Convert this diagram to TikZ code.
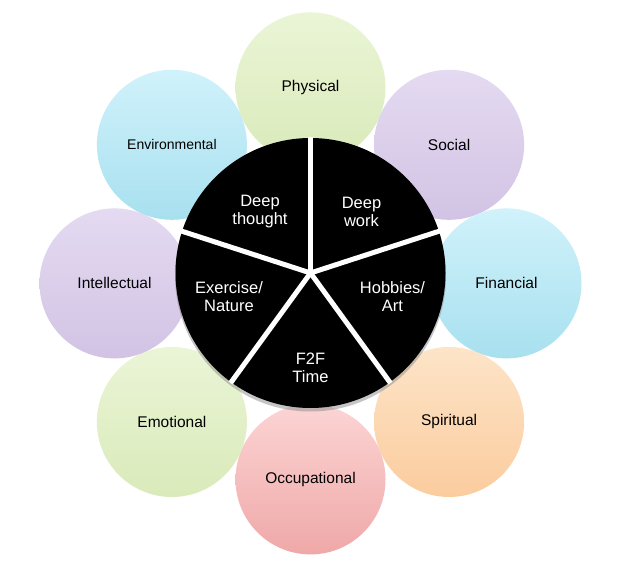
\documentclass[tikz,border=0pt]{standalone}
\usepackage{fontspec}
\setmainfont{Liberation Sans}
\usepackage{tikz}
\usetikzlibrary{positioning}

% 花瓣颜色（上浅下深）
\definecolor{greenTop}{RGB}{234,245,214}
\definecolor{greenBot}{RGB}{218,234,186}
\definecolor{lilacTop}{RGB}{228,218,241}
\definecolor{lilacBot}{RGB}{210,195,228}
\definecolor{cyanTop}{RGB}{208,242,251}
\definecolor{cyanBot}{RGB}{168,224,239}
\definecolor{peachTop}{RGB}{253,228,200}
\definecolor{peachBot}{RGB}{251,204,158}
\definecolor{pinkTop}{RGB}{252,212,212}
\definecolor{pinkBot}{RGB}{239,168,168}

\tikzset{
  petal/.style={circle, minimum size=150pt, inner sep=0pt,
    font=\fontsize{15.5}{18}\selectfont, text=black},
  slicetext/.style={align=center, text=white,
    font=\fontsize{16.5}{18}\selectfont},
  gapline/.style={white, line width=5pt}
}

\begin{document}
\begin{tikzpicture}[x=1pt, y=1pt]
    \useasboundingbox (0,0) rectangle (621,567);
    \fill[white] (0,0) rectangle (621,567);

    % 外圈圆心与饼图圆心
    \coordinate (ring) at (310.5,283.6);
    \coordinate (hub) at (310.5,294);

    % 外圈八个圆
    \node[petal, top color=greenTop, bottom color=greenBot]
        (physical) at ([shift={(90:196)}]ring) {Physical};
    \node[petal, top color=lilacTop, bottom color=lilacBot]
        (social) at ([shift={(45:196)}]ring) {Social};
    \node[petal, top color=cyanTop, bottom color=cyanBot]
        (financial) at ([shift={(0:196)}]ring) {Financial};
    \node[petal, top color=peachTop, bottom color=peachBot]
        (spiritual) at ([shift={(-45:196)}]ring) {Spiritual};
    \node[petal, top color=pinkTop, bottom color=pinkBot]
        (occupational) at ([shift={(-90:196)}]ring) {Occupational};
    \node[petal, top color=greenTop, bottom color=greenBot]
        (emotional) at ([shift={(-135:196)}]ring) {Emotional};
    \node[petal, top color=lilacTop, bottom color=lilacBot]
        (intellectual) at ([shift={(180:196)}]ring) {Intellectual};
    \node[petal, top color=cyanTop, bottom color=cyanBot,
          font=\fontsize{14}{16}\selectfont]
        (environmental) at ([shift={(135:196)}]ring) {Environmental};

    % 饼图阴影与主体
    \fill[black!45, opacity=0.5] ([yshift=-3]hub) circle (135.5);
    \fill[black] (hub) circle (135);

    % 扇区之间的白色缝隙
    \foreach \a in {90,18,-54,-126,162} {
        \draw[gapline] (hub) -- ([shift={(\a:136)}]hub);
    }

    % 扇区文字
    \node[slicetext] (thought) at (260,355) {Deep\\thought};
    \node[slicetext] (work) at (361.5,355) {Deep\\work};
    \node[slicetext] (exercise) at (229,270) {Exercise/\\Nature};
    \node[slicetext] (hobbies) at (392.5,270) {Hobbies/\\Art};
    \node[slicetext] (f2f) at (310.5,199) {F2F\\Time};
\end{tikzpicture}
\end{document}
